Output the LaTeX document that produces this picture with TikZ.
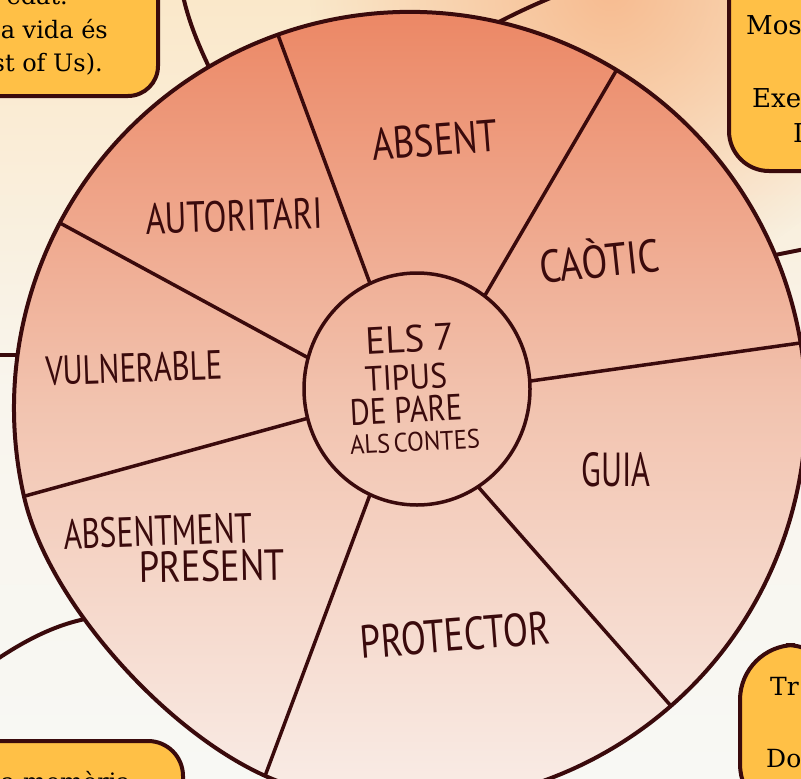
\documentclass[tikz,border=0pt]{standalone}
\usepackage{fontspec}
\setmainfont{DejaVu Serif}
\newfontfamily\handfont{PT Sans}
\usepackage{graphicx}
\usetikzlibrary{fadings,shapes.geometric}
\tikzfading[name=glowfade, inner color=transparent!0, outer color=transparent!100]
\definecolor{ink}{RGB}{58,10,12}
\definecolor{boxfill}{RGB}{255,192,70}
\definecolor{bgtop}{RGB}{250,232,202}
\definecolor{bgmid}{RGB}{249,245,237}
\definecolor{bgbot}{RGB}{248,248,244}
\definecolor{glow}{RGB}{247,188,145}
\definecolor{wtop}{RGB}{235,128,92}
\definecolor{wmid}{RGB}{242,196,176}
\definecolor{wbot}{RGB}{250,242,238}
\newcommand{\hw}[3]{\resizebox{#1bp}{#2bp}{\handfont #3}}
\begin{document}
\begin{tikzpicture}[x=1bp,y=-1bp,
  hubnode/.style={ellipse, draw=ink, line width=3.5bp, minimum width=226bp, minimum height=232bp, inner sep=0pt, outer sep=0pt},
  rim/.style={draw=ink, line width=4bp},
  spoke/.style={draw=ink, line width=3.5bp},
  conn/.style={draw=ink, line width=4bp},
  lbl/.style={inner sep=0pt, text=ink},
  ybox/.style={draw=ink, line width=4bp, fill=boxfill, inner sep=0pt, outer sep=0pt},
  btext/.style={inner sep=0pt, text=black}]
\useasboundingbox (0,0) rectangle (801,779);
\clip (0,0) rectangle (801,779);
\shade[top color=bgtop, bottom color=bgbot, middle color=bgmid] (0,0) rectangle (801,779);
\fill[glow, path fading=glowfade] (610,-10) circle (300);

% connectors free ends
\coordinate (e1) at (183,-4);
\coordinate (e2) at (565,-8);
\coordinate (e3) at (830,244);
\coordinate (e4) at (-10,355);
\coordinate (e5) at (-10,664);

% points on the rim
\coordinate (r1) at (209,67);
\coordinate (r2) at (499,22);
\coordinate (r3) at (775,255);
\coordinate (r4) at (18,355);
\coordinate (r5) at (85,619);

% connectors
\draw[conn] (r1) .. controls (196,40) and (188,18) .. (e1);
\draw[conn] (r2) .. controls (518,12) and (540,2) .. (e2);
\draw[conn] (r3) -- (e3);
\draw[conn] (r4) -- (e4);
\draw[conn] (r5) .. controls (52,626) and (22,642) .. (e5);

% wheel body
\def\rimpath{(287.6,784.6) arc[start angle=108, end angle=-193, radius=396]
  .. controls (49.8,609.2) and (183,750.6) .. (287.6,784.6) -- cycle}
\shade[top color=wtop, bottom color=wbot, middle color=wmid] \rimpath;

\node[hubnode] (hub) at (417,389) {};

% outer ends of the spokes
\coordinate (o1) at (278,35);
\coordinate (o2) at (616,71);
\coordinate (o3) at (800,343);
\coordinate (o4) at (671,706);
\coordinate (o5) at (265,776);
\coordinate (o6) at (25,496);
\coordinate (o7) at (60,223);

\draw[spoke] (hub.114.1) -- (o1);
\draw[spoke] (hub.54.5) -- (o2);
\draw[spoke] (hub.4.1) -- (o3);
\draw[spoke] (hub.-58) -- (o4);
\draw[spoke] (hub.246.7) -- (o5);
\draw[spoke] (hub.195.5) -- (o6);
\draw[spoke] (hub.164.6) -- (o7);

\draw[rim] \rimpath;

% sector labels
\node[lbl, rotate=4.5] (absent) at (435,140) {\hw{126}{32}{ABSENT}};
\node[lbl, rotate=2] (autoritari) at (234,216) {\hw{177}{31}{AUTORITARI}};
\node[lbl, rotate=6] (caotic) at (599,258) {\hw{120}{40}{CAÒTIC}};
\node[lbl, rotate=2] (vulnerable) at (134,368) {\hw{177}{29}{VULNERABLE}};
\node[lbl] (guia) at (616,470) {\hw{69}{34}{GUIA}};
\node[lbl, rotate=2] (absentment) at (158,531) {\hw{189}{30}{ABSENTMENT}};
\node[lbl, rotate=1] (present) at (212,566) {\hw{146}{31}{PRESENT}};
\node[lbl, rotate=4.5] (protector) at (455,635) {\hw{190}{33}{PROTECTOR}};

% hub text
\node[lbl, rotate=3] (h1) at (410,339) {\hw{89}{27}{ELS 7}};
\node[lbl, rotate=3] (h2) at (406,377) {\hw{82}{25}{TIPUS}};
\node[lbl, rotate=3] (h3) at (406,410) {\hw{112}{26}{DE PARE}};
\node[lbl, rotate=3] (h4) at (415,442) {\hw{130}{19}{ALS\hspace{0.15em}CONTES}};

% yellow boxes
\node[ybox, rounded corners=30bp, minimum width=198bp, minimum height=136bp] (tlbox) at (59,28) {};
\node[ybox, rounded corners=40bp, minimum width=112bp, minimum height=211bp] (trbox) at (785,65.5) {};
\node[ybox, rounded corners=55bp, minimum width=101bp, minimum height=174bp] (brbox) at (790.5,732) {};
\node[ybox, rounded corners=35bp, minimum width=223bp, minimum height=78bp] (blbox) at (71.5,780) {};

% box texts
\begin{scope}[every node/.append style={font=\fontsize{24bp}{34bp}\selectfont}]
\node[btext, anchor=base east] (t1) at (68,5) {edat.};
\node[btext, anchor=base east] (t2) at (108,39) {a vida és};
\node[btext, anchor=base east] (t3) at (103,72) {st of Us).};
\node[btext, anchor=base east] (t9) at (131,790) {a memòria};
\end{scope}
\begin{scope}[every node/.append style={font=\fontsize{26bp}{36bp}\selectfont}]
\node[btext, anchor=base west] (t4) at (746,35) {Mos};
\node[btext, anchor=base west] (t5) at (752,107) {Exer};
\node[btext, anchor=base west] (t6) at (793,142) {D};
\end{scope}
\begin{scope}[every node/.append style={font=\fontsize{25bp}{36bp}\selectfont}]
\node[btext, anchor=base west] (t7) at (770,695) {Tr};
\node[btext, anchor=base west] (t8) at (766,767) {Do};
\end{scope}
\end{tikzpicture}
\end{document}
